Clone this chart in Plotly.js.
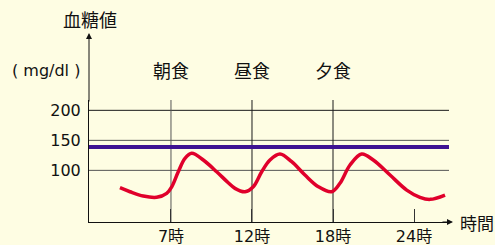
<!DOCTYPE html>
<html>
<head>
<meta charset="utf-8">
<script src="https://cdn.plot.ly/plotly-3.0.1.min.js"></script>
<style>html,body{margin:0;padding:0;background:#FEFDE3;}</style>
</head>
<body>
<div id="chart" style="width:495px;height:245px;"></div>
<script>
// time-axis categories (equally spaced positions 1..4)
const timePositions = [1, 2, 3, 4];
const timeLabels = ['7時', '12時', '18時', '24時'];
// meals
const mealPositions = [1, 2, 3];
const mealLabels = ['朝食', '昼食', '夕食'];
// blood glucose y ticks (mg/dl)
const glucoseTicks = [100, 150, 200];
// target level line (mg/dl)
const targetLevel = 139;
// blood glucose curve
const curveX = [0.370, 0.494, 0.658, 0.823, 0.947, 1.009, 1.090, 1.173, 1.256, 1.399, 1.564, 1.707, 1.790, 1.914,
                2.016, 2.120, 2.222, 2.346, 2.490, 2.654, 2.819, 2.984, 3.086, 3.210, 3.354, 3.497, 3.704, 3.910,
                4.074, 4.198, 4.383];
const curveY = [71.1, 64.4, 57.2, 55.1, 61.7, 72.7, 97.7, 120.1, 128.4, 117.2, 97.7, 79.4, 70.0, 64.4,
                72.7, 97.7, 117.2, 127.2, 114.4, 92.2, 72.7, 64.4, 78.4, 108.9, 127.2, 117.2, 92.2, 67.2,
                55.1, 51.7, 58.9];

const latin = 'DejaVu Sans, Noto Sans CJK JP, sans-serif';
const cjk = 'Noto Sans CJK JP, sans-serif';
const ink = '#111111';

const shapes = [];
glucoseTicks.forEach(function (v) {
  shapes.push({type: 'line', xref: 'paper', yref: 'y', x0: 0, x1: 1, y0: v, y1: v,
    line: {color: v === 200 ? '#1a1a1a' : '#555555', width: 1}, layer: 'below'});
});
mealPositions.forEach(function (p, i) {
  shapes.push({type: 'line', xref: 'x', yref: 'paper', x0: p, x1: p, y0: 0, y1: 1,
    line: {color: i === 0 ? '#555555' : '#1a1a1a', width: 1}, layer: 'below'});
});
shapes.push({type: 'line', xref: 'paper', yref: 'y', x0: 0, x1: 1, y0: targetLevel, y1: targetLevel,
  line: {color: '#3E1292', width: 4}, layer: 'below'});

const annotations = [];
mealPositions.forEach(function (p, i) {
  annotations.push({x: p, xref: 'x', y: 1.25, yref: 'paper', text: mealLabels[i], showarrow: false,
    xanchor: 'center', yanchor: 'middle', font: {family: cjk, size: 18, color: ink}});
});
annotations.push({x: -0.0194, xref: 'paper', y: 1.245, yref: 'paper', text: '( mg/dl )', showarrow: false,
  xanchor: 'right', yanchor: 'middle', font: {family: latin, size: 16, color: ink}});
annotations.push({x: 0.003, xref: 'paper', y: 1.66, yref: 'paper', text: '血糖値', showarrow: false,
  xanchor: 'center', yanchor: 'middle', font: {family: cjk, size: 18, color: ink}});
annotations.push({x: 1.024, xref: 'paper', y: 0.0, yref: 'paper', text: '時間', showarrow: false,
  xanchor: 'left', yanchor: 'middle', font: {family: cjk, size: 17, color: ink}});
// axis arrows
annotations.push({x: 0, xref: 'paper', y: 1.549, yref: 'paper', text: '', showarrow: true,
  ax: 0, ay: 70, arrowhead: 2, arrowsize: 1.2, arrowwidth: 1, arrowcolor: ink, standoff: 0});
annotations.push({x: 1.0111, xref: 'paper', y: 0, yref: 'paper', text: '', showarrow: true,
  ax: -12, ay: 0, arrowhead: 2, arrowsize: 1.2, arrowwidth: 1, arrowcolor: ink, standoff: 0});

const data = [{
  type: 'scatter', mode: 'lines', x: curveX, y: curveY,
  line: {color: '#E0002B', width: 3.5, shape: 'spline', smoothing: 1},
  hoverinfo: 'skip'
}];

const layout = {
  width: 495, height: 245,
  margin: {l: 89, r: 46, t: 100, b: 23, pad: 0},
  paper_bgcolor: '#FEFDE3', plot_bgcolor: '#FEFDE3',
  showlegend: false,
  xaxis: {range: [-0.012, 4.432], showline: true, linecolor: ink, linewidth: 1, showgrid: false,
    zeroline: false, tickmode: 'array', tickvals: timePositions, ticktext: timeLabels,
    ticks: 'inside', ticklen: 13, tickcolor: '#333333', tickwidth: 1,
    tickfont: {family: latin, size: 16, color: ink}, fixedrange: true},
  yaxis: {range: [14, 217.2], showline: true, linecolor: ink, linewidth: 1, showgrid: false,
    zeroline: false, tickmode: 'array', tickvals: glucoseTicks, ticks: '',
    ticklabelstandoff: 4, tickfont: {family: latin, size: 16, color: ink}, fixedrange: true},
  shapes: shapes,
  annotations: annotations
};

Plotly.newPlot('chart', data, layout, {displayModeBar: false, staticPlot: true});
</script>
</body>
</html>
